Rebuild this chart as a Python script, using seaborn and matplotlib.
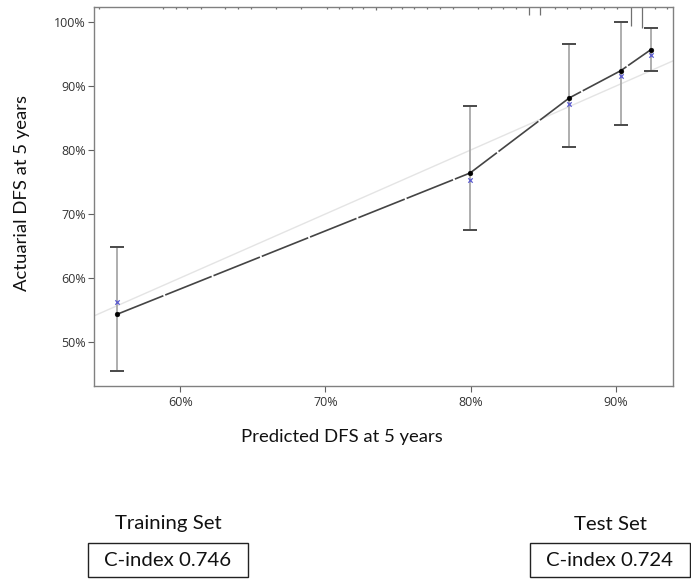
import matplotlib
matplotlib.use("Agg")
import matplotlib.pyplot as plt
import matplotlib.transforms as mtransforms
from matplotlib.patches import Rectangle
from matplotlib.ticker import PercentFormatter
import seaborn as sns
import pandas as pd

# ---- data ----
predicted = [0.5565, 0.7996, 0.8678, 0.9033, 0.9240]
observed = [0.5432, 0.7641, 0.8813, 0.9240, 0.9568]
corrected = [0.5625, 0.7526, 0.8724, 0.9151, 0.9479]
ci_low = [0.4542, 0.6755, 0.8047, 0.8385, 0.9234]
ci_high = [0.6484, 0.8680, 0.9651, 1.0000, 0.9900]

rug_pos = [0.544, 0.588, 0.597, 0.605, 0.614, 0.631, 0.640, 0.649, 0.666, 0.683,
           0.701, 0.709, 0.718, 0.726, 0.735, 0.745, 0.753, 0.761, 0.770, 0.779,
           0.788, 0.805, 0.814, 0.822, 0.831, 0.840, 0.848, 0.858, 0.866, 0.875,
           0.883, 0.892, 0.901, 0.910, 0.918, 0.927, 0.935]
rug_count = [1, 1, 1, 1, 1, 1, 1, 1, 1, 1,
             1, 1, 1, 1, 1.5, 1, 1, 1, 1, 1,
             1, 1, 1, 1, 1, 4, 4, 1, 1, 1,
             1, 1, 1, 9.5, 10.5, 1, 1]

x_ticks = [0.6, 0.7, 0.8, 0.9]
y_ticks = [0.5, 0.6, 0.7, 0.8, 0.9, 1.0]
x_label = "Predicted DFS at 5 years"
y_label = "Actuarial DFS at 5 years"
panel_titles = ["Training Set", "Test Set"]
panel_cindex = ["C-index 0.746", "C-index 0.724"]

df = pd.DataFrame({"predicted": predicted, "observed": observed,
                   "corrected": corrected, "lo": ci_low, "hi": ci_high})

sns.set_style("white")
plt.rcParams["font.family"] = ["Open Sans", "DejaVu Sans"]
LABEL_FONT = ["Lato", "DejaVu Sans"]

W, H = 691, 580
fig = plt.figure(figsize=(W / 100, H / 100), dpi=100)
left_px, right_px, top_px, bottom_px = 94, 673, 7, 386
ax = fig.add_axes([left_px / W, 1 - bottom_px / H,
                   (right_px - left_px) / W, (bottom_px - top_px) / H])

# ideal diagonal
ax.axline((0.5, 0.5), slope=1, color="#e4e4e4", lw=1.0, zorder=1)

# error bars
eb = ax.errorbar(df["predicted"], df["observed"],
                 yerr=[df["observed"] - df["lo"], df["hi"] - df["observed"]],
                 fmt="none", ecolor="#a8a8a8", elinewidth=1.3, capsize=5,
                 capthick=1.4, zorder=2)
for cl in eb[1]:
    cl.set_color("#4a4a4a")
    cl.set_markeredgecolor("#4a4a4a")

# observed line
sns.lineplot(data=df, x="predicted", y="observed", ax=ax, color="#444444",
             lw=1.2, zorder=3)
ax.lines[-1].set_linestyle((0, (30, 1.2)))

sns.scatterplot(data=df, x="predicted", y="observed", ax=ax, color="black",
                s=12, edgecolor="black", linewidth=0.3, zorder=5)
sns.scatterplot(data=df, x="predicted", y="corrected", ax=ax, color="#5a5ad0",
                marker="x", s=10, linewidth=0.9, zorder=4)

# top rug (distribution of predictions)
trans = mtransforms.blended_transform_factory(ax.transData, ax.transAxes)
px_per_count = 2.0 / (bottom_px - top_px)
ax.vlines(rug_pos, [1 - c * px_per_count for c in rug_count], 1.0,
          transform=trans, color="#707070", lw=0.9, zorder=2)

ax.set_xlim(0.5407, 0.9392)
ax.set_ylim(0.4312, 1.0234)
ax.set_xticks(x_ticks)
ax.set_yticks(y_ticks)
ax.xaxis.set_major_formatter(PercentFormatter(1.0, decimals=0))
ax.yaxis.set_major_formatter(PercentFormatter(1.0, decimals=0))
ax.tick_params(axis="both", which="major", length=4, width=0.8, color="#606060",
               labelsize=9, labelcolor="#333333", pad=2, direction="out",
               bottom=True, left=True)
ax.tick_params(axis="x", pad=3)
for s in ax.spines.values():
    s.set_color("#808080")
    s.set_linewidth(1.0)

ax.set_xlabel("")
ax.set_ylabel("")
fig.text(342 / W, 1 - 437 / H, x_label, ha="center", va="center",
         fontsize=13.3, family=LABEL_FONT, color="#111111")
fig.text(22 / W, 1 - 193 / H, y_label, ha="center", va="center",
         rotation=90, fontsize=13.3, family=LABEL_FONT, color="#111111")

# bottom panel texts and boxes
centers = [168, 610]
for cx, title, cidx in zip(centers, panel_titles, panel_cindex):
    fig.text(cx / W, 1 - 524 / H, title, ha="center", va="center",
             fontsize=14.7, family=LABEL_FONT, color="#111111")
    bx0, bx1, by0, by1 = cx - 80, cx + 80, 543, 577
    fig.add_artist(Rectangle((bx0 / W, 1 - by1 / H), (bx1 - bx0) / W,
                             (by1 - by0) / H, transform=fig.transFigure,
                             fill=False, edgecolor="#222222", lw=1.0))
    fig.text(cx / W, 1 - 560 / H, cidx, ha="center", va="center",
             fontsize=14.7, family=LABEL_FONT, color="#111111")

fig.savefig("out.png", dpi=100)
